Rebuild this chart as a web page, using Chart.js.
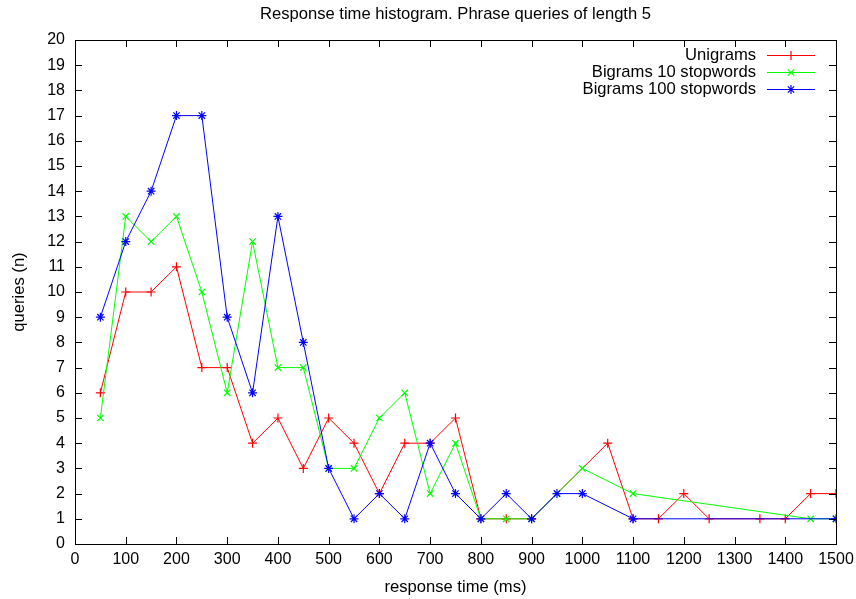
<!DOCTYPE html>
<html>
<head>
<meta charset="utf-8">
<script src="https://cdn.jsdelivr.net/npm/chart.js@4/dist/chart.umd.min.js"></script>
<style>
  html, body { margin: 0; padding: 0; background: #fff; }
  #wrap { width: 856px; height: 599px; }
</style>
</head>
<body>
<div id="wrap"><canvas id="myChart" width="856" height="599"></canvas></div>
<script>
// response time bins (ms) and query counts
const uniX = [50,100,150,200,250,300,350,400,450,500,550,600,650,700,750,800,850,900,1050,1100,1150,1200,1250,1350,1400,1450,1500];
const uniY = [6,10,10,11,7,7,4,5,3,5,4,2,4,4,5,1,1,1,4,1,1,2,1,1,1,2,2];

const bi10X = [50,100,150,200,250,300,350,400,450,500,550,600,650,700,750,800,850,900,950,1000,1100,1450,1500];
const bi10Y = [5,13,12,13,10,6,12,7,7,3,3,5,6,2,4,1,1,1,2,3,2,1,1];

const bi100X = [50,100,150,200,250,300,350,400,450,500,550,600,650,700,750,800,850,900,950,1000,1100,1500];
const bi100Y = [9,12,14,17,17,9,6,13,8,3,1,2,1,4,2,1,2,1,2,2,1,1];

const seriesNames = ["Unigrams", "Bigrams 10 stopwords", "Bigrams 100 stopwords"];
const xTicks = [0,100,200,300,400,500,600,700,800,900,1000,1100,1200,1300,1400,1500];
const yTicks = [0,1,2,3,4,5,6,7,8,9,10,11,12,13,14,15,16,17,18,19,20];

const FONT = "'Liberation Sans', Arial, Helvetica, sans-serif";
const FS = 16;     // tick labels
const FS_T = 16.6; // title, axis titles, legend

function pts(xs, ys) {
  return xs.map((x, i) => ({x: x, y: ys[i]}));
}

function makeSet(label, xs, ys, color, style, order) {
  return {
    label: label,
    data: pts(xs, ys),
    borderColor: color,
    backgroundColor: color,
    borderWidth: 1,
    pointStyle: style,
    pointRadius: 4.5,
    pointBorderWidth: 1.2,
    pointHoverRadius: 4.5,
    fill: false,
    tension: 0,
    order: order
  };
}

// gnuplot style frame: box round the plot with inward ticks on all sides, legend inside top right
const framePlugin = {
  id: 'frame',
  afterDatasetsDraw(chart) {
    const ctx = chart.ctx;
    const a = chart.chartArea;
    const xs = chart.scales.x, ys = chart.scales.y;
    const tl = 7;
    ctx.save();
    ctx.strokeStyle = '#000';
    ctx.lineWidth = 1;
    ctx.beginPath();
    xTicks.forEach(v => {
      const px = Math.round(xs.getPixelForValue(v)) + 0.5;
      ctx.moveTo(px, a.bottom); ctx.lineTo(px, a.bottom - tl);
      ctx.moveTo(px, a.top); ctx.lineTo(px, a.top + tl);
    });
    yTicks.forEach(v => {
      const py = Math.round(ys.getPixelForValue(v)) + 0.5;
      ctx.moveTo(a.left, py); ctx.lineTo(a.left + tl, py);
      ctx.moveTo(a.right, py); ctx.lineTo(a.right - tl, py);
    });
    ctx.stroke();
    ctx.strokeRect(Math.round(a.left) + 0.5, Math.round(a.top) + 0.5,
                   Math.round(a.right - a.left), Math.round(a.bottom - a.top));

    // legend
    ctx.font = FS_T + 'px ' + FONT;
    ctx.textAlign = 'right';
    ctx.textBaseline = 'middle';
    chart.data.datasets.forEach((ds, i) => {
      const y = Math.round(a.top + 15 + i * 17) + 0.5;
      ctx.fillStyle = '#000';
      ctx.fillText(ds.label, a.right - 80, y);
      const x0 = a.right - 69, x1 = a.right - 21;
      ctx.strokeStyle = ds.borderColor;
      ctx.lineWidth = 1;
      ctx.beginPath();
      ctx.moveTo(x0, y); ctx.lineTo(x1, y);
      ctx.stroke();
      ctx.lineWidth = 1.2;
      Chart.helpers.drawPoint(ctx, {pointStyle: ds.pointStyle, rotation: 0, radius: 4.5, borderWidth: 1.2},
                              (x0 + x1) / 2, y);
    });
    ctx.restore();
  }
};

new Chart("myChart", {
  type: "line",
  data: {
    datasets: [
      makeSet(seriesNames[0], uniX, uniY, "#ff0000", "cross", 2),
      makeSet(seriesNames[1], bi10X, bi10Y, "#00ff00", "crossRot", 1),
      makeSet(seriesNames[2], bi100X, bi100Y, "#0000ff", "star", 0)
    ]
  },
  options: {
    responsive: false,
    animation: false,
    events: [],
    layout: { padding: { top: 0, right: 20, bottom: 0, left: 0 } },
    plugins: {
      legend: { display: false },
      tooltip: { enabled: false },
      title: {
        display: true,
        fullSize: false,
        text: "Response time histogram. Phrase queries of length 5",
        color: "#000",
        font: { family: FONT, size: FS_T, weight: "normal" },
        padding: { top: 4, bottom: 16.1 }
      }
    },
    scales: {
      x: {
        type: "linear",
        min: 0,
        max: 1500,
        afterFit: s => { s.height = 55; s.paddingRight = 0; s.paddingLeft = 0; },
        afterBuildTicks: s => { s.ticks = xTicks.map(v => ({value: v})); },
        grid: { display: false, drawTicks: false },
        border: { display: false },
        ticks: {
          color: "#000",
          font: { family: FONT, size: FS },
          padding: 6,
          maxRotation: 0,
          autoSkip: false,
          callback: v => String(v)
        },
        title: {
          display: true,
          text: "response time (ms)",
          color: "#000",
          font: { family: FONT, size: FS_T },
          padding: { top: 0, bottom: 2 }
        }
      },
      y: {
        type: "linear",
        min: 0,
        max: 20,
        afterFit: s => { s.width = 75; s.paddingTop = 0; s.paddingBottom = 0; },
        afterBuildTicks: s => { s.ticks = yTicks.map(v => ({value: v})); },
        grid: { display: false, drawTicks: false },
        border: { display: false },
        ticks: {
          color: "#000",
          font: { family: FONT, size: FS },
          padding: 10,
          autoSkip: false,
          callback: v => String(v)
        },
        title: {
          display: true,
          text: "queries (n)",
          color: "#000",
          font: { family: FONT, size: FS_T },
          padding: { top: 9, bottom: 0 }
        }
      }
    }
  },
  plugins: [framePlugin]
});
</script>
</body>
</html>
